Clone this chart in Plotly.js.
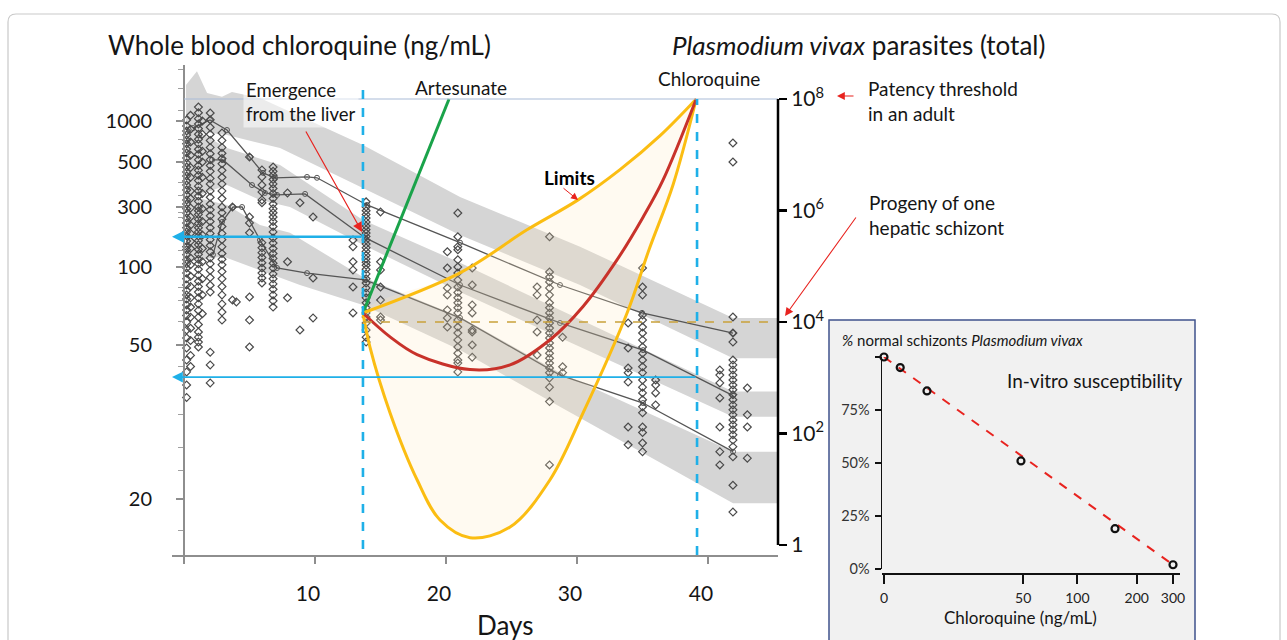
<!DOCTYPE html>
<html><head><meta charset="utf-8">
<script src="https://cdn.plot.ly/plotly-3.0.1.min.js"></script>
<style>html,body{margin:0;padding:0;background:#fff;}#chart{width:1287px;height:640px;}</style>
</head><body><div id="chart"></div>
<script>
// ---------------- DATA ----------------
// Left axis (whole blood chloroquine, ng/mL): non-uniform scale defined by its labelled ticks
const leftTickLabels = ['1000','500','300','100','50','20'];
const leftTickConc   = [1000, 500, 300, 100, 50, 20];
const leftTickPos    = [0.8857, 0.8020, 0.7102, 0.5878, 0.4286, 0.1143];
const leftMinorPos   = [0.990,0.953,0.908,0.847,0.761,0.733,0.698,0.688,0.651,0.622,0.545,0.520,0.476,0.384,0.363,0.286,0.220,0.173,0.051];

// Right axis (parasites)
const rightTickVals = [1, 1e2, 1e4, 1e6, 1e8];
const rightTickText = ['1','10<sup>2</sup>','10<sup>4</sup>','10<sup>6</sup>','10<sup>8</sup>'];

const xTickVals = [0, 10, 20, 30, 40];
const xTickText = ['', '10', '20', '30', '40'];

// Scatter of individual chloroquine concentrations (columns by day)
const scDays = [0.2, 0.5, 1.1, 1.4, 2.0, 2.9, 3.7, 4.0, 5.0, 5.95, 6.8, 7.9, 8.85, 9.85, 12.9, 13.9, 15.0, 20.1, 20.9, 22.0, 26.95, 27.9, 28.9, 33.9, 35.0, 36.0, 40.9, 41.9, 43.0];
const scConc = [
 [1017,920,845,789,726,680,623,583,536,495,472,447,427,403,385,364,344,325,310,290,269,245,224,205,190,177,161,145,137,125,114,106,99,94.7,90,85.2,81,78,75.3,71.4,68.3,65,61.3,57.1,53.2,49.1,45.7,42.6,39.4,36.6],
 [1100,870,700,560,470,420,360,330,295,250,215,185,160,140,118,104,92,84,76,70,64,58,52,47,44],
 [1265,1150,1040,950,880,800,735,680,620,570,520,480,455,430,405,380,360,340,320,300,280,262,240,222,205,190,176,162,150,138,126,115,106,98,93,88,84,80,76,72,68,64,60,56.1,53.6,51.3,49.4],
 [1000,800,600,500,420,350,290,230,180,140,110,90,78,66],
 [1145,1020,900,800,720,640,575,520,480,450,415,390,360,335,310,285,255,230,205,185,165,148,132,118,106,97,91,85,80,47.9,44.4,39.9],
 [817,720,640,580,530,490,455,420,390,360,330,300,270,240,210,185,165,145,128,115,104,96,90,84,78,72,67,62.4],
 [300,74.6],
 [73.3],
 [545,250,224,187,76.6,62.4,49.4],
 [457,422,385,356,325,315,156,142,130,119,108,99,94.7,90.7,86.7],
 [472,450,430,410,390,370,350,330,310,290,270,250,230,210,190,170,155,140,128,117,107,99,94,90,86,82,78,74,70],
 [352,110,76],
 [315,57.1],
 [250,90.7,63.6],
 [164,145,110,97.4,83.7,66.5],
 [318,300,280,262,245,228,212,198,186,175,164,152,142,133,124,116,109,103,98,94,90,86.7,83,79.4,76,72.7,69.6,66.5,64.1,60.8,57.1,53.6,51.3],
 [274,110,97.4,83.7,74.6,64.1,62.4],
 [132,99.1,83,78,68.3,63.6,58.6],
 [269,174,145,137,114,100,94.7,89.1,83.7,79.7,76,72.7,69.6,66.5,62.4,58.6,55.6,52.3,49.4,47.6,45.7,44.9,42.6],
 [99.1,85.2,71.4,66.5,57.1,56.1,50,46.5],
 [83.7,78,62.4,56.1,47.1],
 [174,95.6,91.5,87.6,83,78,72.7,69.6,66.5,63.6,60.8,58.1,55.6,53.2,50.9,49.1,47.6,46.2,44.9,43.6,42.4,41.1,38.9,35.7,24.5],
 [53.6,43.9,42.4],
 [60.8,49.1,43.6,42.4,40.1,30.7,27.6],
 [99.1,83.7,78,65.3,62.4,58.6,55.6,52.3,49.4,47.6,45.7,43.9,42.4,40.6,38.9,37.6,36.1,34.6,33.4,30.7,29.7,27.9,26.5],
 [40.6,39.4,37.6,35.0],
 [43.1,41.8,39.9,36.5,30.7,26.5,24.5],
 [690,500,64.1,55.6,51.3,45.7,44.4,43.1,41.8,40.6,39.4,38.3,37.2,36.1,35.0,34.0,33.0,32.0,31.1,30.2,29.3,28.4,27.3,25.7,21.7,18.5],
 [38.7,33.0,30.7,25.5]
];

// Percentile (median) lines
const med1Days = [0.69,1.98,3.28,5.04,6.03,6.95,9.39,10.15,13.97,21.07,28.7,34.96,41.91];
const med1Conc = [888,1017,859,545,442,418,422,418,307,156,85.2,66.5,55.6];
const med2Days = [2.14,2.98,5.19,6.18,7.1,9.24,13.82,21.07,28.7,35.04,41.91];
const med2Conc = [518,518,385,352,344,348,171,85.2,60.8,48.5,37.0];
const med3Days = [2.21,2.9,3.74,4.43,5.8,7.1,9.39,13.82,21.07,28.7,35.04,41.91];
const med3Conc = [125,228,300,300,164,99.1,94.7,89.1,63.6,41.8,35.4,26.5];

// Grey prediction bands (closed outlines: upper edge left->right, lower edge right->left)
const bandADays = [0.15,0.99,1.76,2.90,3.66,5.80,13.66,21.07,30.23,41.91,45.34, 45.34,41.91,30.23,21.07,13.66,7.33,3.28,0.15];
const bandAConc = [1838,2322,1606,1505,1635,1474,667,336,145,63.6,63.6, 46.2,46.2,85.2,180,372,633,789,859];
const bandBDays = [0.15,3.28,7.33,13.66,21.07,41.91,45.34, 45.34,41.91,21.07,13.66,8.09,5.80,3.28,0.15];
const bandBConc = [935,633,483,236,108,37.9,37.9, 32.6,32.6,80.1,150,300,325,385,325];
const bandCDays = [0.15,3.28,5.80,8.09,13.66,21.07,28.70,41.91,45.34, 45.34,41.91,28.70,21.07,13.66,8.85,2.98,0.15];
const bandCConc = [344,307,216,187,91.5,64.1,42.4,26.5,26.5, 19.5,19.5,34.6,48.5,71.4,85.2,121,110];

// Parasite biomass curves (total parasites)
const emergeDay = 13.66, cqDay = 39.16;
const artDays = [13.66, 20.23];
const artPar  = [1.45e4, 1e8];
const upDays  = [13.66,21.07,26.18,30.08,33.28,36.34,39.1];
const upPar   = [1.45e4,7.6e4,4.5e5,1.55e6,5.4e6,2.2e7,1e8];
const redDays = [13.66,15.73,17.79,21.83,24.89,27.94,30.46,33.05,35.04,36.56,39.1];
const redPar  = [1.45e4,5.4e3,2.6e3,1.4e3,1.7e3,4.8e3,1.9e4,1.3e5,7.6e5,3.5e6,1e8];
const loDays  = [13.66,14.2,15.73,17.79,19.54,21.83,24.89,27.94,30.46,33.82,35.5,37.33,39.1];
const loPar   = [1.45e4,3.5e3,234,14.8,2.8,1.35,2.1,14.8,234,1.45e4,2e5,2.9e6,1e8];
const patency = 1e8, progeny = 1e4;
const cqAtEmergence = 174, cqAtRecrudescence = 41.3;

// Inset: in-vitro susceptibility
const invConc = [0, 2.8, 8.6, 48.5, 156, 300];
const invPct  = [100, 95, 84, 51, 19, 2];
const invFitConc = [0, 300];
const invFitPct  = [100, 2];
const invTickConc = [0, 50, 100, 200, 300];
const invPctTicks = [0, 25, 50, 75, 100];
const invPctText  = ['0%','25%','50%','75%',''];

// ---------------- SCALES ----------------
const ancL = leftTickConc.map(c => Math.log10(c)).reverse();
const ancP = leftTickPos.slice().reverse();
function cq(c){
  const l = Math.log10(c);
  let i = 0;
  if (l >= ancL[ancL.length-1]) i = ancL.length-2;
  else if (l > ancL[0]) { while (l > ancL[i+1]) i++; }
  return ancP[i] + (l-ancL[i])*(ancP[i+1]-ancP[i])/(ancL[i+1]-ancL[i]);
}
const invOffset = 15; // shifted log scale for the inset's concentration axis
const inv = c => c + invOffset;

// ---------------- TRACES ----------------
const W = 1287, H = 640;
const BAND = '#d5d5d5';
const traces = [];
[[bandADays,bandAConc],[bandBDays,bandBConc],[bandCDays,bandCConc]].forEach(b=>{
  traces.push({x:b[0], y:b[1].map(cq), type:'scatter', mode:'lines', fill:'toself', fillcolor:BAND, line:{width:0}, hoverinfo:'skip', xaxis:'x', yaxis:'y'});
});
[[med1Days,med1Conc],[med2Days,med2Conc],[med3Days,med3Conc]].forEach(m=>{
  traces.push({x:m[0], y:m[1].map(cq), type:'scatter', mode:'lines+markers', line:{color:'#555', width:1.3},
    marker:{symbol:'circle-open', size:5, color:'#555', line:{width:1}}, xaxis:'x', yaxis:'y'});
});
const sx = [], sy = [];
scDays.forEach((d,i)=>{ scConc[i].forEach(v=>{ sx.push(d); sy.push(cq(v)); }); });
traces.push({x:sx, y:sy, type:'scatter', mode:'markers', cliponaxis:false,
  marker:{symbol:'diamond-open', size:6, color:'#4a4a4a', line:{width:1.2}}, xaxis:'x', yaxis:'y'});

// limits fill
traces.push({x:upDays.concat(loDays.slice().reverse()), y:upPar.concat(loPar.slice().reverse()), type:'scatter', mode:'lines',
  fill:'toself', fillcolor:'rgba(255,232,190,0.22)', line:{width:0, shape:'spline'}, xaxis:'x', yaxis:'y2', hoverinfo:'skip'});
traces.push({x:artDays, y:artPar, type:'scatter', mode:'lines', line:{color:'#1aa34a', width:3}, xaxis:'x', yaxis:'y2'});
traces.push({x:upDays, y:upPar, type:'scatter', mode:'lines', line:{color:'#fbbd12', width:3, shape:'spline'}, xaxis:'x', yaxis:'y2'});
traces.push({x:loDays, y:loPar, type:'scatter', mode:'lines', line:{color:'#fbbd12', width:3, shape:'spline'}, xaxis:'x', yaxis:'y2'});
traces.push({x:redDays, y:redPar, type:'scatter', mode:'lines', line:{color:'#c8322a', width:3, shape:'spline'}, xaxis:'x', yaxis:'y2'});

// inset
traces.push({x:invFitConc.map(inv), y:invFitPct, type:'scatter', mode:'lines', line:{color:'#e8231f', width:2, dash:'dash'}, xaxis:'x3', yaxis:'y3'});
traces.push({x:invConc.map(inv), y:invPct, type:'scatter', mode:'markers', cliponaxis:false,
  marker:{symbol:'circle-open', size:7, color:'#111', line:{width:2.2}}, xaxis:'x3', yaxis:'y3'});

// ---------------- LAYOUT ----------------
const px = v => v / W, py = v => (H - v) / H;
const FONT = 'Lato, "Noto Sans", "Open Sans", sans-serif';
const CYAN = '#1fb0e8', RED = '#e8231f';
const frameR = 8;
const framePath = `M ${px(8)},-0.02 L ${px(8)},${py(14+frameR)} Q ${px(8)},${py(14)} ${px(8+frameR)},${py(14)} L ${px(1280-frameR)},${py(14)} Q ${px(1280)},${py(14)} ${px(1280)},${py(14+frameR)} L ${px(1280)},-0.02`;

const txt = (text, x, y, size, extra) => Object.assign({text, xref:'paper', yref:'paper', x:px(x), y:py(y), xanchor:'center', yanchor:'middle',
  showarrow:false, font:{size, color:'#151515'}}, extra || {});

const layout = {
  width:W, height:H, margin:{l:0,r:0,t:0,b:0}, paper_bgcolor:'#ffffff', plot_bgcolor:'rgba(0,0,0,0)',
  showlegend:false, font:{family:FONT, color:'#151515'}, hovermode:false,
  xaxis:{domain:[px(172), px(778)], range:[-0.916, 45.34], anchor:'y', showline:true, linecolor:'#8e8e8e', linewidth:2,
    ticks:'outside', ticklen:7, tickwidth:1.5, tickcolor:'#8e8e8e', tickmode:'array', tickvals:xTickVals, ticktext:xTickText,
    tickfont:{size:21, color:'#151515', family:FONT}, ticklabelshift:-7, ticklabelstandoff:12, showgrid:false, zeroline:false},
  yaxis:{domain:[py(555), py(65)], range:[0,1], anchor:'free', position:px(184), showline:true, linecolor:'#8e8e8e', linewidth:2,
    ticks:'outside', ticklen:7, tickwidth:1.5, tickcolor:'#8e8e8e', tickmode:'array', tickvals:leftTickPos, ticktext:leftTickLabels,
    tickfont:{size:20, color:'#151515', family:FONT}, ticklabelstandoff:20, showgrid:false, zeroline:false,
    minor:{tickmode:'array', tickvals:leftMinorPos, ticks:'outside', ticklen:5, tickwidth:1, tickcolor:'#a0a0a0'}},
  yaxis2:{overlaying:'y', side:'right', anchor:'x', type:'log', range:[-0.18, 8.61], tickmode:'array', tickvals:rightTickVals, ticktext:rightTickText,
    ticks:'outside', ticklen:8, tickwidth:2.5, tickcolor:'#000', showline:false, showgrid:false, zeroline:false,
    tickfont:{size:21, color:'#151515', family:FONT}},
  xaxis3:{domain:[px(882), px(1180)], range:[Math.log10(inv(0))-0.009, 2.5303], type:'log', anchor:'free', position:py(573),
    showline:true, linecolor:'#111', linewidth:1.5, ticks:'outside', ticklen:9, tickwidth:2, tickcolor:'#111',
    tickmode:'array', tickvals:invTickConc.map(inv), ticktext:invTickConc.map(String), tickfont:{size:14, color:'#222', family:FONT},
    ticklabelstandoff:3, showgrid:false, zeroline:false},
  yaxis3:{domain:[py(569), py(357)], range:[0,100], anchor:'x3', showline:true, linecolor:'#111', linewidth:1.5,
    ticks:'outside', ticklen:6, tickwidth:1.5, tickcolor:'#111', tickmode:'array', tickvals:invPctTicks, ticktext:invPctText,
    tickfont:{size:14.5, color:'#333', family:FONT}, ticklabelstandoff:2, showgrid:false, zeroline:false},
  shapes:[
    {type:'path', path:framePath, xref:'paper', yref:'paper', line:{color:'#c9c9c9', width:1.2}, layer:'below'},
    {type:'rect', xref:'paper', yref:'paper', x0:px(829), x1:px(1195), y0:-0.02, y1:py(320), fillcolor:'#f1f1f1', line:{color:'#3f528c', width:1.5}, layer:'below'},
    {type:'line', xref:'x', yref:'y2', x0:0, x1:45.34, y0:patency, y1:patency, line:{color:'#a9bbd8', width:1.2}, layer:'above'},
    {type:'line', xref:'x', yref:'y2', x0:emergeDay, x1:45.34, y0:progeny, y1:progeny, line:{color:'#c9a13a', width:1.6, dash:'dash'}, layer:'above'},
    {type:'line', xref:'x', yref:'paper', x0:emergeDay, x1:emergeDay, y0:py(549), y1:py(84), line:{color:CYAN, width:2.6, dash:'dash'}, layer:'above'},
    {type:'line', xref:'x', yref:'paper', x0:cqDay, x1:cqDay, y0:py(555), y1:py(99), line:{color:CYAN, width:2.6, dash:'dash'}, layer:'above'},
    {type:'line', xref:'paper', yref:'y2', x0:px(778), x1:px(778), y0:rightTickVals[0], y1:rightTickVals[4], line:{color:'#000', width:2.5}, layer:'above'}
  ],
  annotations:[
    txt('Whole blood chloroquine (ng/mL)', 106, 45, 26, {xanchor:'left'}),
    txt('<i>Plasmodium vivax</i> parasites (total)', 670, 45, 26, {xanchor:'left'}),
    txt('Days', 505, 625, 26),
    txt('Emergence<br>from the liver', 301, 102, 18.5, {align:'left', bgcolor:'rgba(255,255,255,0.55)', borderpad:2}),
    {text:'', xref:'x', yref:'y', x:13.59, y:cq(190), axref:'x', ayref:'y', ax:9.24, ay:cq(859), showarrow:true, arrowcolor:RED, arrowwidth:1.2, arrowhead:2, arrowsize:1.6},
    txt('Artesunate', 461, 87, 19),
    txt('Chloroquine', 709, 79, 19),
    txt('<b>Limits</b>', 569, 177, 19, {font:{size:19, color:'#000'}}),
    {text:'', xref:'paper', yref:'paper', x:px(578), y:py(200), ax:-16, ay:-13, showarrow:true, arrowcolor:RED, arrowwidth:1, arrowhead:2, arrowsize:1.4},
    txt('Patency threshold<br>in an adult', 866, 101, 19, {xanchor:'left', align:'left'}),
    {text:'', xref:'paper', yref:'paper', x:px(837), y:py(96), ax:18, ay:0, showarrow:true, arrowcolor:RED, arrowwidth:1.2, arrowhead:2, arrowsize:1.3},
    txt('Progeny of one<br>hepatic schizont', 867, 215, 19, {xanchor:'left', align:'left'}),
    {text:'', xref:'paper', yref:'paper', x:px(785), y:py(316), ax:72, ay:-100, showarrow:true, arrowcolor:RED, arrowwidth:1.1, arrowhead:2, arrowsize:1.5},
    {text:'', xref:'x', yref:'y', x:-0.916, y:cq(cqAtEmergence), axref:'x', ayref:'y', ax:emergeDay, ay:cq(cqAtEmergence), showarrow:true, arrowcolor:CYAN, arrowwidth:2.4, arrowhead:2, arrowsize:1},
    {text:'', xref:'x', yref:'y', x:-0.916, y:cq(cqAtRecrudescence), axref:'x', ayref:'y', ax:cqDay, ay:cq(cqAtRecrudescence), showarrow:true, arrowcolor:CYAN, arrowwidth:1.8, arrowhead:2, arrowsize:1.2},
    txt('<i>%</i> normal schizonts <i>Plasmodium vivax</i>', 840, 340, 15, {xanchor:'left'}),
    txt('In-vitro susceptibility', 1094, 380, 19),
    txt('Chloroquine (ng/mL)', 1020, 617, 17)
  ]
};

Plotly.newPlot('chart', traces, layout, {displayModeBar:false, staticPlot:true});
</script>
</body></html>
